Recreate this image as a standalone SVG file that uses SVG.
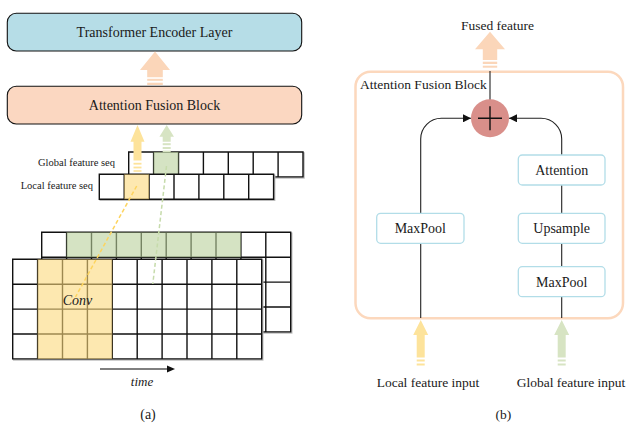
<svg xmlns="http://www.w3.org/2000/svg" width="627" height="425" viewBox="0 0 627 425">
  <defs>
    <style>
      text { font-family: "Liberation Serif", "Times New Roman", serif; fill: #1a1a1a; }
      .title { font-size: 14px; text-anchor: middle; }
      .lbl { font-size: 13.5px; text-anchor: middle; }
      .small { font-size: 10.5px; text-anchor: end; }
      .it { font-style: italic; }
      .cell { fill: #ffffff; }
      .grid { fill: none; stroke: #111; stroke-width: 1.4; }
      .shadow { fill: none; stroke: #bdbdbd; stroke-width: 1.6; }
      .yfill { fill: #fcd97b; fill-opacity: 0.6; }
      .gfill { fill: #b9d09b; fill-opacity: 0.6; }
      .peach { fill: #fbd6b9; }
      .yellow { fill: #fde39b; }
      .green { fill: #d7e4c3; }
      .op { fill: #ffffff; stroke: #b2dde8; stroke-width: 1.3; }
      .wire { fill: none; stroke: #222; stroke-width: 1.1; }
    </style>
    <marker id="tip" viewBox="0 0 10 10" refX="10" refY="5" markerWidth="8" markerHeight="8" markerUnits="userSpaceOnUse" orient="auto">
      <path d="M0 0 L10 5 L0 10 Z" fill="#111"/>
    </marker>
  </defs>

  <!-- (a) stack of layers -->
  <g id="transformer-encoder">
    <rect x="7.3" y="13.3" width="294.4" height="37.7" rx="9" fill="#b6dde7" stroke="#111" stroke-width="1.1"/>
    <text class="title" x="154.5" y="37">Transformer Encoder Layer</text>
  </g>
  <g id="attention-fusion-a">
    <rect x="7.3" y="86.3" width="294.4" height="37.7" rx="9" fill="#fbd7c1" stroke="#111" stroke-width="1.1"/>
    <text class="title" x="154.5" y="110">Attention Fusion Block</text>
  </g>

  <!-- feature map: back channel -->
  <g id="feature-map-back">
    <rect class="shadow" x="42.7" y="233.3" width="249" height="99.6"/>
    <rect class="cell" x="41.7" y="232.3" width="249" height="99.6"/>
    <path class="grid" d="M41.7 232.3 h249 v99.6 h-249 Z
      M41.7 257.2 h249 M41.7 282.1 h249 M41.7 307 h249
      M66.6 232.3 v99.6 M91.5 232.3 v99.6 M116.4 232.3 v99.6 M141.3 232.3 v99.6 M166.2 232.3 v99.6
      M191.1 232.3 v99.6 M216 232.3 v99.6 M240.9 232.3 v99.6 M265.8 232.3 v99.6"/>
    <rect class="gfill" x="66.6" y="232.3" width="174.3" height="24.9"/>
  </g>

  <!-- feature map: front channel -->
  <g id="feature-map-front">
    <rect class="shadow" x="13.7" y="260.3" width="249" height="99.6"/>
    <rect class="cell" x="12.7" y="259.3" width="249" height="99.6"/>
    <path class="grid" d="M12.7 259.3 h249 v99.6 h-249 Z
      M12.7 284.2 h249 M12.7 309.1 h249 M12.7 334 h249
      M37.6 259.3 v99.6 M62.5 259.3 v99.6 M87.4 259.3 v99.6 M112.3 259.3 v99.6 M137.2 259.3 v99.6
      M162.1 259.3 v99.6 M187 259.3 v99.6 M211.9 259.3 v99.6 M236.8 259.3 v99.6"/>
    <rect class="yfill" x="37.6" y="259.3" width="74.7" height="99.6"/>
    <text class="it" x="77.5" y="304.5" font-size="14" text-anchor="middle">Conv</text>
  </g>

  <!-- global feature sequence -->
  <g id="global-seq">
    <text class="small" x="115" y="166">Global feature seq</text>
    <rect class="shadow" x="129.7" y="153" width="174.3" height="24.9"/>
    <rect class="cell" x="128.7" y="152" width="174.3" height="24.9"/>
    <path class="grid" d="M128.7 152 h174.3 v24.9 h-174.3 Z
      M153.6 152 v24.9 M178.5 152 v24.9 M203.4 152 v24.9 M228.3 152 v24.9 M253.2 152 v24.9 M278.1 152 v24.9"/>
    <rect class="gfill" x="153.6" y="152" width="24.9" height="24.9"/>
  </g>

  <!-- local feature sequence -->
  <g id="local-seq">
    <text class="small" x="93" y="188.5">Local feature seq</text>
    <rect class="shadow" x="100.3" y="175.3" width="174.3" height="24.9"/>
    <rect class="cell" x="99.3" y="174.3" width="174.3" height="24.9"/>
    <path class="grid" d="M99.3 174.3 h174.3 v24.9 h-174.3 Z
      M124.2 174.3 v24.9 M149.1 174.3 v24.9 M174 174.3 v24.9 M198.9 174.3 v24.9 M223.8 174.3 v24.9 M248.7 174.3 v24.9"/>
    <rect class="yfill" x="124.2" y="174.3" width="24.9" height="24.9"/>
  </g>

  <!-- time axis -->
  <g id="time-axis">
    <line x1="100" y1="369" x2="168" y2="369" stroke="#555" stroke-width="1.3"/>
    <path d="M175 369 L167 365.5 L167 372.5 Z" fill="#111"/>
    <text class="it" x="142" y="386" font-size="13" text-anchor="middle">time</text>
  </g>

  <text class="title" x="148" y="419" font-size="15">(a)</text>

  <!-- (b) attention fusion block -->
  <g id="attention-fusion-b">
    <rect x="355.5" y="71.7" width="267.5" height="246.6" rx="15" fill="none" stroke="#fcd8bd" stroke-width="2.5"/>
    <text x="360" y="88.5" font-size="13.5">Attention Fusion Block</text>
  </g>

  <g id="connectors">
    <!-- (a) block arrows -->
    <path class="peach" d="M155 51.5 L170 70 L162.8 70 L162.8 77.3 L147.2 77.3 L147.2 70 L140 70 Z"/>
    <rect class="peach" x="147.2" y="78.8" width="15.6" height="2"/>
    <rect class="peach" x="147.2" y="82.7" width="15.6" height="2.3"/>

    <path class="yellow" d="M137.5 125 L144.5 141.7 L141.5 141.7 L141.5 160.5 L133.5 160.5 L133.5 141.7 L130.5 141.7 Z"/>
    <rect class="yellow" x="133.5" y="162.8" width="8" height="1.8"/>
    <rect class="yellow" x="133.5" y="166.6" width="8" height="1.8"/>
    <rect class="yellow" x="133.5" y="170.2" width="8" height="1.6"/>

    <path class="green" d="M166.7 125 L174 136.7 L170.7 136.7 L170.7 141.7 L162.7 141.7 L162.7 136.7 L159.4 136.7 Z"/>
    <rect class="green" x="162.7" y="143.2" width="8" height="2"/>
    <rect class="green" x="162.7" y="147" width="8" height="2"/>
    <rect class="green" x="162.7" y="150.6" width="8" height="1.6"/>

    <!-- convolution correspondences -->
    <line x1="136.7" y1="186" x2="75.5" y2="297" stroke="#fdd45e" stroke-width="1.5" stroke-dasharray="4 2.5"/>
    <line x1="166.5" y1="166" x2="152.8" y2="284" stroke="#c6dbab" stroke-width="1.5" stroke-dasharray="4 2.5"/>

    <!-- (b) wiring -->
    <line class="wire" x1="490" y1="71" x2="490" y2="100"/>
    <path class="wire" d="M420.7 318 V139 A20.7 20.7 0 0 1 441.4 118.3 H471" marker-end="url(#tip)"/>
    <path class="wire" d="M561.7 318 V139 A20.7 20.7 0 0 0 541 118.3 H509" marker-end="url(#tip)"/>

    <!-- (b) block arrows -->
    <path class="peach" d="M490 31.7 L505 49.3 L497.2 49.3 L497.2 60 L482.8 60 L482.8 49.3 L475 49.3 Z"/>
    <rect class="peach" x="482.8" y="61.7" width="14.4" height="2.3"/>
    <rect class="peach" x="482.8" y="65.7" width="14.4" height="2"/>

    <path class="yellow" d="M420.7 320 L428.2 335 L424.7 335 L424.7 357.5 L416.7 357.5 L416.7 335 L413.2 335 Z"/>
    <rect class="yellow" x="416.7" y="359.5" width="8" height="2"/>
    <rect class="yellow" x="416.7" y="363.5" width="8" height="2"/>

    <path class="green" d="M561.7 320 L569.2 335 L565.7 335 L565.7 357.5 L557.7 357.5 L557.7 335 L554.2 335 Z"/>
    <rect class="green" x="557.7" y="359.5" width="8" height="2"/>
    <rect class="green" x="557.7" y="363.5" width="8" height="2"/>
  </g>

  <g id="sum">
    <circle cx="490" cy="118.3" r="19" fill="#d98f8a"/>
    <path d="M478 118.3 H502 M490 106.3 V130.3" stroke="#111" stroke-width="1.4"/>
  </g>

  <g id="maxpool-local">
    <rect class="op" x="376.7" y="213.3" width="87.3" height="30" rx="4"/>
    <text class="title" x="420.3" y="233.3">MaxPool</text>
  </g>
  <g id="attention">
    <rect class="op" x="518.3" y="155" width="86.7" height="30" rx="4"/>
    <text class="title" x="561.7" y="175">Attention</text>
  </g>
  <g id="upsample">
    <rect class="op" x="518.3" y="213.3" width="86.7" height="30" rx="4"/>
    <text class="title" x="561.7" y="233.3">Upsample</text>
  </g>
  <g id="maxpool-global">
    <rect class="op" x="518.3" y="266.7" width="86.7" height="30" rx="4"/>
    <text class="title" x="561.7" y="286.7">MaxPool</text>
  </g>

  <text class="lbl" x="428" y="386.5">Local feature input</text>
  <text class="lbl" x="571" y="386.5">Global feature input</text>
  <text class="lbl" x="503.3" y="419" font-size="15">(b)</text>
  <text class="lbl" x="497.5" y="30">Fused feature</text>
</svg>
